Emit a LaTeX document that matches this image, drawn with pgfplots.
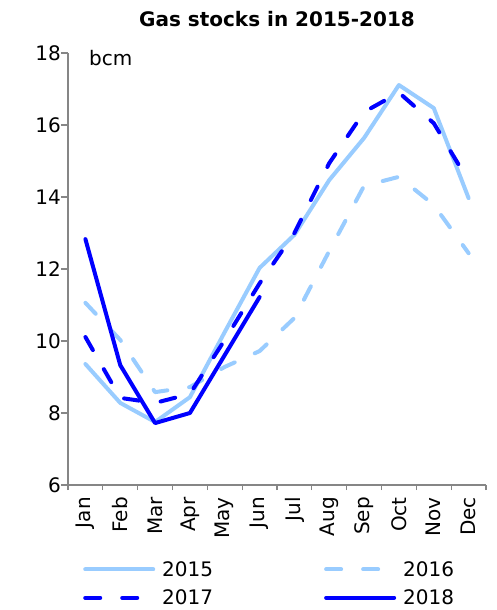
\documentclass[border=0pt]{standalone}
\usepackage{fontspec}
\setmainfont{DejaVu Sans}
\usepackage{pgfplots}
\pgfplotsset{compat=1.18}
\definecolor{lightblue}{RGB}{153,204,255}
\definecolor{darkblue}{RGB}{0,0,255}
\definecolor{axisgray}{RGB}{134,134,134}

\begin{document}
\begin{tikzpicture}
\path[use as bounding box] (-68bp,-125bp) rectangle (429bp,485bp);
\begin{axis}[
  at={(0,0)}, anchor=south west,
  scale only axis, width=418bp, height=432bp,
  xmin=-0.5, xmax=11.5, ymin=6, ymax=18,
  axis x line=bottom, axis y line=left,
  axis line style={-, axisgray, line width=1.2bp},
  font=\fontsize{20bp}{24bp}\selectfont,
  /pgf/number format/assume math mode=true,
  ytick={6,8,...,18},
  xtick={0,...,11},
  xticklabels={Jan,Feb,Mar,Apr,May,Jun,Jul,Aug,Sep,Oct,Nov,Dec},
  minor xtick={-0.5,0.5,...,11.5},
  tick align=outside,
  major x tick style={draw=none},
  major tick length=7bp, minor tick length=5bp,
  tick style={axisgray, line width=1.2bp},
  xticklabel style={rotate=90, anchor=east, inner sep=0pt},
  xticklabel shift=5bp,
  yticklabel style={anchor=east, inner sep=0pt},
  title={Gas stocks in 2015-2018},
  title style={at={(0.5,1)}, anchor=base, yshift=21bp, inner sep=0pt, font=\fontsize{20bp}{24bp}\selectfont\bfseries},
  clip=false,
  legend columns=2,
  legend style={draw=none, fill=none, at={(axis description cs:0.036,-0.176)}, anchor=north west,
    inner sep=0pt, font=\fontsize{20bp}{24bp}\selectfont,
    nodes={inner sep=0pt},
    /tikz/every odd column/.append style={column sep=7bp},
    /tikz/every even column/.append style={column sep=111bp},
    row sep=12bp},
  legend image code/.code={\draw[#1] (0bp,0bp) -- (68bp,0bp);},
  every axis plot/.append style={line width=4bp, line join=round, line cap=round},
]
\addplot[lightblue] coordinates {
  (0,9.36) (1,8.28) (2,7.75) (3,8.44) (4,10.25) (5,12.03)
  (6,12.95) (7,14.47) (8,15.64) (9,17.11) (10,16.47) (11,13.97)};
\addlegendentry{2015}
\addplot[lightblue, dash pattern=on 15bp off 22bp] coordinates {
  (0,11.06) (1,10.03) (2,8.58) (3,8.72) (4,9.28) (5,9.72)
  (6,10.64) (7,12.5) (8,14.31) (9,14.56) (10,13.78) (11,12.44)};
\addlegendentry{2016}
\addplot[darkblue, dash pattern=on 15bp off 22bp] coordinates {
  (0,10.11) (1,8.42) (2,8.28) (3,8.53) (4,10.03) (5,11.6)
  (6,13.0) (7,14.94) (8,16.36) (9,16.9) (10,16.05) (11,14.44)};
\addlegendentry{2017}
\addplot[darkblue] coordinates {
  (0,12.83) (1,9.33) (2,7.72) (3,8.0) (4,9.61) (5,11.22)};
\addlegendentry{2018}
\node[anchor=base west, inner sep=0pt] at (axis description cs:0.05,0.972) {bcm};
\end{axis}
\end{tikzpicture}
\end{document}
